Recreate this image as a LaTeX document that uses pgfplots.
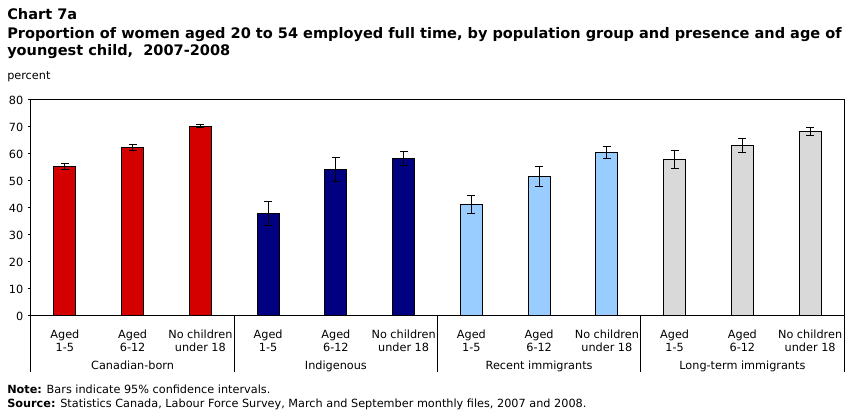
\documentclass[border=0pt]{standalone}
\usepackage{pgfplots}
\pgfplotsset{compat=1.18}
\usepackage{fontspec}
\setmainfont{DejaVu Sans}

\definecolor{cbred}{HTML}{D40000}
\definecolor{indnavy}{HTML}{000080}
\definecolor{recblue}{HTML}{99CCFF}
\definecolor{ltgrey}{HTML}{D9D9D9}

\newcommand{\smallfont}{\fontsize{8.45pt}{9.5pt}\selectfont}
\newcommand{\titlefont}{\fontsize{10.9pt}{12.75pt}\selectfont\bfseries}

\begin{document}
\begin{tikzpicture}
\useasboundingbox (0,0) rectangle (639pt,312.75pt);

% titles
\node[anchor=base west, inner sep=0pt, font=\titlefont] at (5.25pt,297.75pt) {Chart 7a};
\node[anchor=base west, inner sep=0pt, font=\titlefont] at (5.25pt,284pt)
  {Proportion of women aged 20 to 54 employed full time, by population group and presence and age of};
\node[anchor=base west, inner sep=0pt, font=\titlefont] at (5.25pt,271.3pt)
  {youngest child,\ \ 2007-2008};
\node[anchor=base west, inner sep=0pt, font=\smallfont] at (5.25pt,252.75pt) {percent};

\begin{axis}[
  at={(23.25pt,75.75pt)}, anchor=south west,
  scale only axis, width=609.75pt, height=162pt,
  xmin=-0.5, xmax=11.5, ymin=0, ymax=80,
  ytick={0,10,...,80},
  ytick pos=left, xtick pos=bottom,
  tick align=outside,
  major tick length=2.25pt,
  tick style={black, line width=0.75pt},
  axis line style={black, line width=0.75pt},
  xtick={0,...,11},
  x tick style={draw=none},
  xticklabels={{Aged\\1-5},{Aged\\6-12},{No children\\under 18},
               {Aged\\1-5},{Aged\\6-12},{No children\\under 18},
               {Aged\\1-5},{Aged\\6-12},{No children\\under 18},
               {Aged\\1-5},{Aged\\6-12},{No children\\under 18}},
  xticklabel style={align=center, anchor=north, inner sep=0pt, yshift=-8pt, font=\smallfont},
  yticklabel style={font=\smallfont},
  /pgf/number format/assume math mode=true,
  extra x ticks={-0.5,2.5,5.5,8.5,11.5},
  extra x tick labels={},
  extra x tick style={major tick length=42pt, tick align=outside,
    x tick style={draw=black, line width=0.75pt}},
  ybar, bar width=16.5pt, bar shift=0pt,
  every axis plot/.append style={draw=black, line width=0.75pt},
  error bars/y dir=both, error bars/y explicit,
  error bars/error bar style={black, line width=0.75pt},
  error bars/error mark options={black, mark size=3pt, line width=0.75pt, rotate=90},
  clip=false,
]
% Canadian-born
\addplot[fill=cbred] coordinates {
  (0,55.4) +- (0,1.1)
  (1,62.5) +- (0,1.1)
  (2,70.3) +- (0,0.6)
};
% Indigenous
\addplot[fill=indnavy] coordinates {
  (3,38.0) +- (0,4.4)
  (4,54.3) +- (0,4.4)
  (5,58.4) +- (0,2.6)
};
% Recent immigrants
\addplot[fill=recblue] coordinates {
  (6,41.3) +- (0,3.2)
  (7,51.6) +- (0,3.8)
  (8,60.6) +- (0,2.2)
};
% Long-term immigrants
\addplot[fill=ltgrey] coordinates {
  (9,58.0) +- (0,3.3)
  (10,63.2) +- (0,2.6)
  (11,68.4) +- (0,1.5)
};

% group names under the category labels
\node[anchor=base, inner sep=0pt, font=\smallfont, yshift=-40.1pt] at (axis cs:1,0) {Canadian-born};
\node[anchor=base, inner sep=0pt, font=\smallfont, yshift=-40.1pt] at (axis cs:4,0) {Indigenous};
\node[anchor=base, inner sep=0pt, font=\smallfont, yshift=-40.1pt] at (axis cs:7,0) {Recent immigrants};
\node[anchor=base, inner sep=0pt, font=\smallfont, yshift=-40.1pt] at (axis cs:10,0) {Long-term immigrants};
\end{axis}

% notes
\node[anchor=base west, inner sep=0pt, font=\smallfont] at (5.25pt,17.6pt)
  {\textbf{Note:} Bars indicate 95\% confidence intervals.};
\node[anchor=base west, inner sep=0pt, font=\smallfont] at (5.25pt,7.1pt)
  {\textbf{Source:} Statistics Canada, Labour Force Survey, March and September monthly files, 2007 and 2008.};
\end{tikzpicture}
\end{document}
